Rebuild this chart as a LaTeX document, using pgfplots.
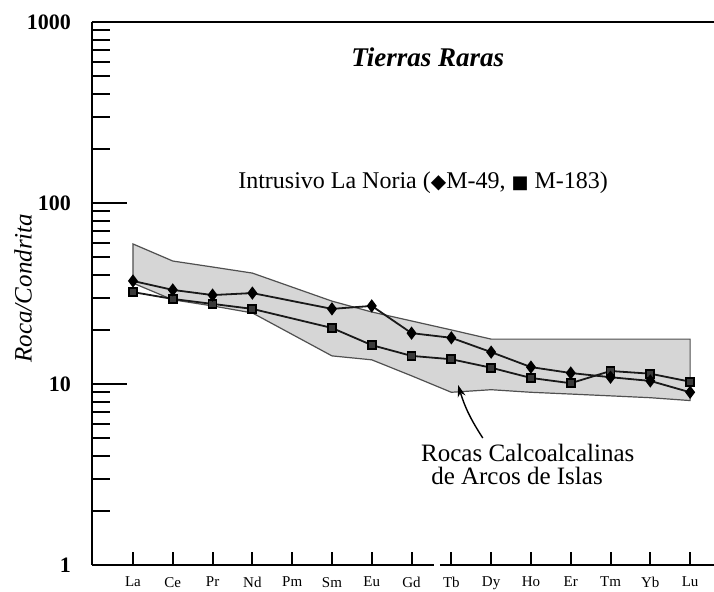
\documentclass[border=0pt]{standalone}
\usepackage{pgfplots}
\pgfplotsset{compat=1.18}
\usepackage{fontspec}
\setmainfont{Liberation Serif}
\newfontfamily\symfont{DejaVu Sans}
\usetikzlibrary{arrows.meta}
\definecolor{bandfill}{HTML}{D6D6D6}
\definecolor{banddraw}{HTML}{505050}
\definecolor{sqfill}{HTML}{3A3A3A}

\begin{document}
\begin{tikzpicture}
\begin{axis}[
  scale only axis, width=311pt, height=271.5pt,
  ymode=log, ymin=1, ymax=1000,
  xmin=-1.03, xmax=14.6,
  axis y line*=left, axis x line*=bottom,
  y axis line style={line width=1.1pt,-},
  x axis line style={draw=none},
  tick align=inside,
  major tick length=17.5pt, minor tick length=9pt,
  xtick style={/pgfplots/major tick length=6.5pt},
  every tick/.style={line width=1pt, black},
  xtick={0,...,14},
  xticklabels={La,Ce,Pr,Nd,Pm,Sm,Eu,Gd,Tb,Dy,Ho,Er,Tm,Yb,Lu},
  xticklabel style={font=\fontsize{7.5}{8}\selectfont, yshift=-2.5pt},
  ytick={1,10,100,1000},
  yticklabels={1,10,100,1000},
  yticklabel style={font=\bfseries\fontsize{11}{12}\selectfont, xshift=-7pt},
  clip=false,
]
\addplot[fill=bandfill, draw=banddraw, line width=0.6pt] coordinates {
  (0,59.4) (1,47.8) (2,44.3) (3,41.0) (5,28.7) (6,25.0) (7,22.3) (8,19.9)
  (9,17.7) (10,17.7) (11,17.7) (12,17.7) (13,17.7) (14,17.7)
  (14,8.1) (13,8.4) (12,8.6) (11,8.8) (10,9.0) (9,9.3) (8,9.0) (7,11.1)
  (6,13.6) (5,14.3) (3,24.7) (2,27.0) (1,29.2) (0,36.1)
} -- cycle;
% M-183 squares
\addplot[color=black!90, line width=0.9pt, mark=square*, mark size=2pt,
  mark options={fill=sqfill, draw=black}] coordinates {
  (0,32.2) (1,29.5) (2,27.7) (3,26.0) (5,20.4) (6,16.4) (7,14.3) (8,13.7)
  (9,12.3) (10,10.8) (11,10.1) (12,11.8) (13,11.4) (14,10.3)
};
% M-49 diamonds
\addplot[color=black!90, line width=0.9pt, mark=diamond*, mark size=2.6pt,
  mark options={fill=black, draw=black}] coordinates {
  (0,37.1) (1,33.1) (2,31.0) (3,31.8) (5,26.0) (6,27.0) (7,19.1) (8,18.0)
  (9,15.0) (10,12.4) (11,11.5) (12,10.9) (13,10.4) (14,9.0)
};
% frame pieces
\draw[line width=0.8pt] (rel axis cs:0,1) -- (rel axis cs:1,1);
\draw[line width=1.1pt] (rel axis cs:0,0) -- (axis cs:7.56,1);
\draw[line width=1.1pt] (axis cs:7.71,1) -- (rel axis cs:1,0);
% texts
\node[font=\bfseries\itshape\fontsize{13.5}{16}\selectfont] at (axis cs:7.41,641) {Tierras Raras};
\node[font=\fontsize{12}{14}\selectfont] at (axis cs:7.29,128.9)
  {Intrusivo La Noria ({\symfont\fontsize{10}{10}\selectfont ◆}M-49, {\symfont\fontsize{9}{9}\selectfont ■} M-183)};
\node[font=\fontsize{12.5}{14}\selectfont] at (axis cs:9.92,4.16) {Rocas Calcoalcalinas};
\node[font=\fontsize{12.5}{14}\selectfont] at (axis cs:9.65,3.10) {de Arcos de Islas};
\draw[line width=0.7pt, -{Stealth[length=6pt,width=4pt]}] (axis cs:8.79,5.03) to[bend left=8] (axis cs:8.17,9.87);
\node[font=\itshape\fontsize{12.5}{14}\selectfont, rotate=90] at ([xshift=-34.5pt]rel axis cs:0,0.51) {Roca/Condrita};
\end{axis}
\pgfresetboundingbox
\path[use as bounding box] (-46pt,-13pt) rectangle (311pt,282.5pt);
\end{tikzpicture}
\end{document}
